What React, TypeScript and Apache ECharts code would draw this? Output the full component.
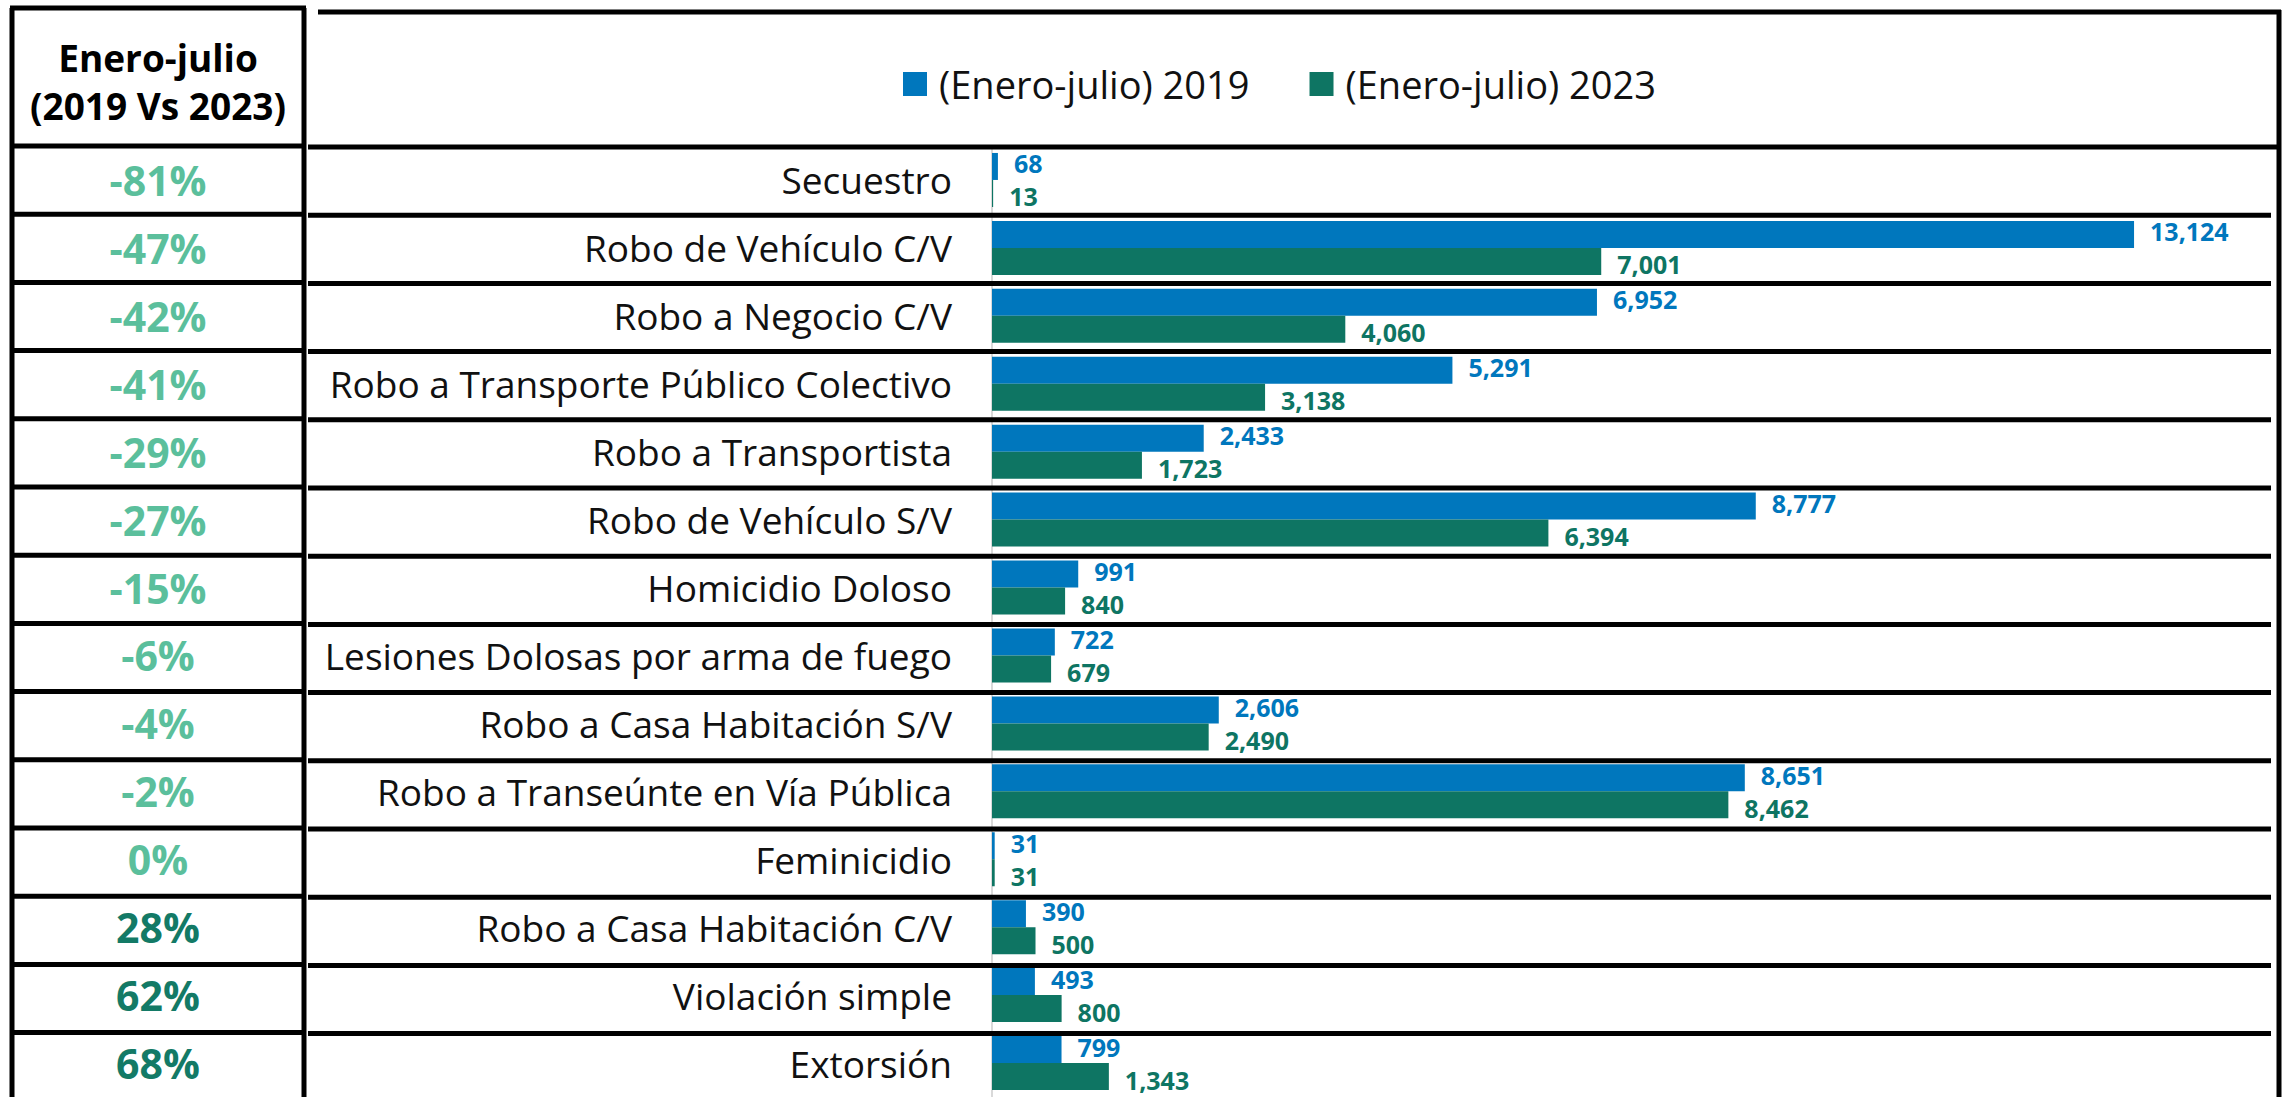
import React, { useEffect, useRef } from "react";
import * as echarts from "echarts";

const categories = [
  "Secuestro",
  "Robo de Vehículo C/V",
  "Robo a Negocio C/V",
  "Robo a Transporte Público Colectivo",
  "Robo a Transportista",
  "Robo de Vehículo S/V",
  "Homicidio Doloso",
  "Lesiones Dolosas por arma de fuego",
  "Robo a Casa Habitación S/V",
  "Robo a Transeúnte en Vía Pública",
  "Feminicidio",
  "Robo a Casa Habitación C/V",
  "Violación simple",
  "Extorsión",
];
const values2019 = [68, 13124, 6952, 5291, 2433, 8777, 991, 722, 2606, 8651, 31, 390, 493, 799];
const values2023 = [13, 7001, 4060, 3138, 1723, 6394, 840, 679, 2490, 8462, 31, 500, 800, 1343];
const changePct = [-81, -47, -42, -41, -29, -27, -15, -6, -4, -2, 0, 28, 62, 68];
const seriesNames = ["(Enero-julio) 2019", "(Enero-julio) 2023"];
const headerLines = ["Enero-julio", "(2019 Vs 2023)"];

const W = 2283;
const H = 1097;
const FONT = "'Open Sans', Lato, sans-serif";
const BLUE = "#0077BD";
const GREEN = "#0E7563";
const LIGHT_GREEN = "#5BBF9C";
const DARK_GREEN = "#137A66";

const GRID_LEFT = 992;
const GRID_TOP = 146;
const ROW_H = 68.2;
const X_MAX = 14000;
const PX_PER_UNIT = 0.08702;
const LEFT_BOX_L = 12;
const LEFT_BOX_R = 304;
const LEFT_CENTER = (LEFT_BOX_L + LEFT_BOX_R) / 2;
const RIGHT_L = 308;
const RIGHT_R = 2279;
const LW = 5;

const fmt = (n: number) => n.toLocaleString("en-US");

export default function App() {
  const ref = useRef<HTMLDivElement>(null);
  useEffect(() => {
    if (!ref.current) return;
    const chart = echarts.init(ref.current, undefined, { renderer: "svg" });
    const n = categories.length;
    const gridHeight = n * ROW_H;
    const gridWidth = X_MAX * PX_PER_UNIT;

    const lineStyle = { stroke: "#000", lineWidth: LW };
    const graphics: any[] = [];
    // left box
    graphics.push({ type: "line", shape: { x1: LEFT_BOX_L - 2, y1: 8, x2: LEFT_BOX_R + 2, y2: 8 }, style: lineStyle, z: 10 });
    graphics.push({ type: "line", shape: { x1: LEFT_BOX_L, y1: 8, x2: LEFT_BOX_L, y2: H + 5 }, style: lineStyle, z: 10 });
    graphics.push({ type: "line", shape: { x1: LEFT_BOX_R, y1: 8, x2: LEFT_BOX_R, y2: H + 5 }, style: lineStyle, z: 10 });
    // right panel
    graphics.push({ type: "line", shape: { x1: 318, y1: 12, x2: RIGHT_R + 2, y2: 12 }, style: lineStyle, z: 10 });
    graphics.push({ type: "line", shape: { x1: RIGHT_R, y1: 10, x2: RIGHT_R, y2: H + 5 }, style: lineStyle, z: 10 });
    for (let k = 0; k < n; k++) {
      const y = GRID_TOP + k * ROW_H;
      graphics.push({ type: "line", shape: { x1: LEFT_BOX_L, y1: y, x2: LEFT_BOX_R, y2: y }, style: lineStyle, z: 10 });
      graphics.push({ type: "line", shape: { x1: RIGHT_L, y1: y + 1, x2: k === 0 ? RIGHT_R : RIGHT_R - 8, y2: y + 1 }, style: lineStyle, z: 10 });
    }
    // header text
    headerLines.forEach((t, i) => {
      graphics.push({
        type: "text",
        x: LEFT_CENTER,
        y: 57 + i * 48,
        z: 11,
        style: {
          text: t,
          fontFamily: FONT,
          fontWeight: "bold",
          fontSize: 37,
          fill: "#000",
          align: "center",
          verticalAlign: "middle",
        },
      });
    });

    const labelCommon = {
      show: true,
      position: "right",
      distance: 16,
      fontFamily: FONT,
      fontWeight: "bold",
      fontSize: 25,
      lineHeight: 25,
      formatter: (p: any) => fmt(p.value),
    };

    chart.setOption({
      animation: false,
      backgroundColor: "#fff",
      textStyle: { fontFamily: FONT },
      legend: {
        data: seriesNames,
        left: 903,
        top: 64,
        padding: 0,
        itemWidth: 24,
        itemHeight: 24,
        itemGap: 60,
        icon: "rect",
        textStyle: { fontFamily: FONT, fontSize: 38, color: "#111", lineHeight: 40, padding: [0, 0, 0, 7] },
      },
      grid: { left: GRID_LEFT, top: GRID_TOP, width: gridWidth, height: gridHeight, containLabel: false },
      xAxis: { type: "value", min: 0, max: X_MAX, show: false },
      yAxis: [
        {
          type: "category",
          data: categories,
          inverse: true,
          axisLine: { show: true, lineStyle: { color: "#D9D9D9", width: 2 } },
          axisTick: { show: false },
          axisLabel: { interval: 0, margin: 40, fontFamily: FONT, fontSize: 37, color: "#111", align: "right" },
        },
        {
          type: "category",
          data: categories,
          inverse: true,
          position: "left",
          axisLine: { show: false },
          axisTick: { show: false },
          axisLabel: {
            interval: 0,
            margin: GRID_LEFT - LEFT_CENTER,
            align: "center",
            formatter: (_v: string, idx: number) => {
              const p = changePct[idx];
              return p > 0 ? `{pos|${p}%}` : `{neg|${p}%}`;
            },
            rich: {
              pos: { fontFamily: FONT, fontWeight: "bold", fontSize: 41, color: DARK_GREEN },
              neg: { fontFamily: FONT, fontWeight: "bold", fontSize: 41, color: LIGHT_GREEN },
            },
          },
        },
      ],
      series: [
        {
          type: "bar",
          name: seriesNames[0],
          data: values2019,
          barWidth: 27,
          barGap: "0%",
          itemStyle: { color: BLUE },
          label: { ...labelCommon, color: BLUE, offset: [0, -3] },
        },
        {
          type: "bar",
          name: seriesNames[1],
          data: values2023,
          barWidth: 27,
          barGap: "0%",
          itemStyle: { color: GREEN },
          label: { ...labelCommon, color: GREEN, offset: [0, 3] },
        },
      ],
      graphic: graphics,
    });
    return () => chart.dispose();
  }, []);
  return <div ref={ref} style={{ position: "fixed", left: 0, top: 0, width: W, height: H, background: "#fff" }} />;
}
